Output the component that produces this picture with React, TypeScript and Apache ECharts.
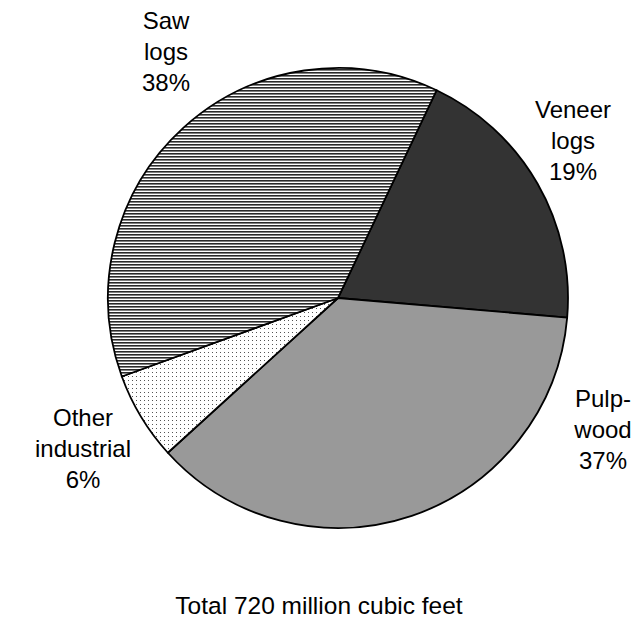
import React, { useEffect, useRef } from "react";
import * as echarts from "echarts";

const categories = ["Veneer logs", "Pulpwood", "Other industrial", "Saw logs"];
const labelTexts = ["Veneer\nlogs", "Pulp-\nwood", "Other\nindustrial", "Saw\nlogs"];
// slice sizes as drawn in the picture (percent of the circle)
const sliceShares = [19.3, 36.9, 6.2, 37.6];
// percentages printed on the labels
const printedShares = [19, 37, 6, 38];
const titleText = "Total 720 million cubic feet";

const labelPos: [number, number][] = [
  [573, 140],
  [603, 429],
  [83, 448],
  [166, 51],
];

function makeHatch() {
  const c = document.createElement("canvas");
  c.width = 4;
  c.height = 3;
  const ctx = c.getContext("2d")!;
  ctx.fillStyle = "#ffffff";
  ctx.fillRect(0, 0, 4, 3);
  ctx.fillStyle = "#2a2a2a";
  ctx.fillRect(0, 0, 4, 1);
  ctx.fillStyle = "#808080";
  ctx.fillRect(0, 1, 4, 1);
  return c;
}

function makeDots() {
  const c = document.createElement("canvas");
  c.width = 4;
  c.height = 4;
  const ctx = c.getContext("2d")!;
  ctx.fillStyle = "#ffffff";
  ctx.fillRect(0, 0, 4, 4);
  ctx.fillStyle = "#555555";
  ctx.fillRect(0, 0, 1, 1);
  return c;
}

export default function App() {
  const ref = useRef<HTMLDivElement>(null);
  useEffect(() => {
    if (!ref.current) return;
    const chart = echarts.init(ref.current, null, { renderer: "svg" });
    const hatch = makeHatch();
    const dots = makeDots();
    const fills: any[] = [
      "#333333",
      "#999999",
      { image: dots, repeat: "repeat", imageWidth: 4, imageHeight: 4 },
      { image: hatch, repeat: "repeat", imageWidth: 4, imageHeight: 3 },
    ];
    chart.setOption({
      animation: false,
      backgroundColor: "#ffffff",
      title: {
        text: titleText,
        left: 314,
        textAlign: "center",
        top: 588,
        textStyle: {
          fontFamily: "Liberation Sans",
          fontSize: 24.5,
          fontWeight: "normal",
          color: "#000",
        },
      },
      series: [
        {
          type: "pie",
          center: [338, 298],
          radius: [0, 230],
          startAngle: 64.6,
          clockwise: true,
          avoidLabelOverlap: false,
          data: categories.map((name, i) => ({
            name,
            value: sliceShares[i],
            itemStyle: { color: fills[i] },
          })),
          itemStyle: { borderColor: "#000", borderWidth: 1.8 },
          emphasis: { disabled: true },
          labelLine: { show: false },
          label: {
            show: true,
            position: "outside",
            formatter: (p: any) =>
              `${labelTexts[p.dataIndex]}\n${printedShares[p.dataIndex]}%`,
            fontFamily: "Liberation Sans",
            fontSize: 24,
            lineHeight: 31,
            color: "#000",
            align: "center",
          },
          labelLayout: (p: any) => ({
            x: labelPos[p.dataIndex][0],
            y: labelPos[p.dataIndex][1],
            align: "center",
            verticalAlign: "middle",
          }),
        },
      ],
    });
    return () => chart.dispose();
  }, []);
  return (
    <div
      ref={ref}
      style={{ position: "fixed", left: 0, top: 0, width: 634, height: 625 }}
    />
  );
}
